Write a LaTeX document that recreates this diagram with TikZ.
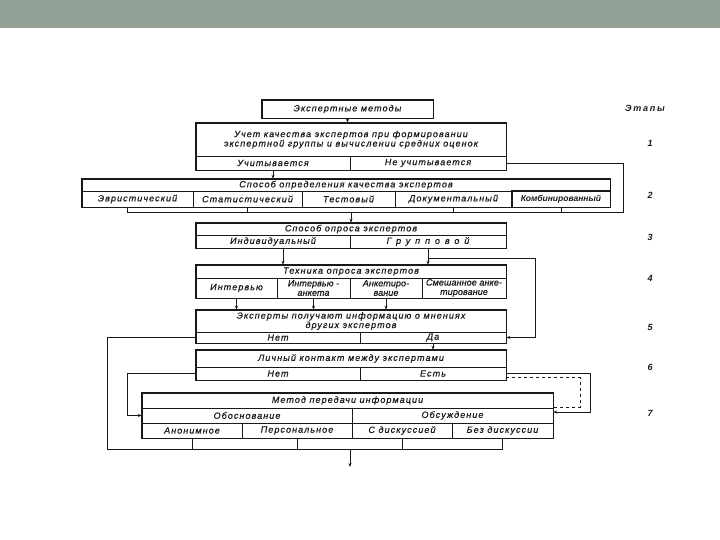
\documentclass[tikz,border=0pt]{standalone}
\usepackage{fontspec}
\setmainfont{Liberation Sans}
\usetikzlibrary{arrows.meta}
\definecolor{bandgrey}{RGB}{147,161,150}
\definecolor{ink}{RGB}{25,25,25}
\tikzset{
  cell/.style={draw=ink, line width=0.5pt, inner sep=0pt, align=center, text=ink,
    font=\itshape\fontsize{9}{9.4}\selectfont\addfontfeature{LetterSpace=12,FakeBold=0.6}},
  tightcell/.style={cell, font=\itshape\fontsize{9}{9.4}\selectfont\addfontfeature{LetterSpace=1,FakeBold=0.6}},
  frame/.style={draw=ink, line width=1.3pt},
  link/.style={draw=ink, line width=0.8pt},
  arr/.style={link, -{Stealth[length=4pt,width=3pt]}},
  stage/.style={font=\bfseries\itshape\fontsize{9}{9}\selectfont\addfontfeature{LetterSpace=20}, text=ink}
}
\begin{document}
\begin{tikzpicture}[x=1pt,y=-1pt]
			%%%%% START %%%%%
			\useasboundingbox (0,0) rectangle (720,540);
			\fill[bandgrey] (0,0) rectangle (720,28);
			
			% stage 0
			\node[cell, minimum width=171, minimum height=18] (methods) at (347.5,109) {Экспертные методы};
			\draw[frame] (methods.north west) rectangle (methods.south east);
			
			% stage 1
			\node[cell, minimum width=310, minimum height=33] (b1t) at (351,139.5) {Учет качества экспертов при формировании\\экспертной группы и вычислении средних оценок};
			\node[cell, minimum width=154, minimum height=14] (b1a) at (273,163) {Учитывается};
			\node[cell, minimum width=156, minimum height=14] (b1b) at (428,163) {Не учитывается};
			\draw[frame] (b1t.north west) rectangle (b1b.south east);
			
			% stage 2
			\node[cell, minimum width=528, minimum height=12] (b2t) at (346,185) {Способ определения качества экспертов};
			\node[cell, minimum width=111, minimum height=16] (b2a) at (137.5,199) {Эвристический};
			\node[cell, minimum width=109, minimum height=16] (b2b) at (247.5,199) {Статистический};
			\node[cell, minimum width=93, minimum height=16] (b2c) at (348.5,199) {Тестовый};
			\node[cell, minimum width=117, minimum height=16] (b2d) at (453.5,199) {Документальный};
			\node[tightcell, minimum width=98, minimum height=16, font=\bfseries\itshape\fontsize{8.5}{9}\selectfont] (b2e) at (561,199) {Комбинированный};
			\draw[frame] (b2t.north west) rectangle (b2e.south east);
			\draw[frame] (b2e.north west) rectangle (b2e.south east);
			
			% stage 3
			\node[cell, minimum width=310, minimum height=12] (b3t) at (351,229) {Способ опроса экспертов};
			\node[cell, minimum width=154, minimum height=13] (b3a) at (273,241.5) {Индивидуальный};
			\node[cell, minimum width=156, minimum height=13, font=\itshape\fontsize{9}{9.4}\selectfont\addfontfeature{LetterSpace=55,FakeBold=0.6}] (b3b) at (428,241.5) {Групповой};
			\draw[frame] (b3t.north west) rectangle (b3b.south east);
			
			% stage 4
			\node[cell, minimum width=310, minimum height=13] (b4t) at (351,271.5) {Техника опроса экспертов};
			\node[cell, minimum width=81, minimum height=20] (b4a) at (236.5,288) {Интервью};
			\node[tightcell, minimum width=73, minimum height=20] (b4b) at (313.5,288) {Интервью -\\анкета};
			\node[tightcell, minimum width=72, minimum height=20] (b4c) at (386,288) {Анкетиро-\\вание};
			\node[tightcell, minimum width=84, minimum height=20] (b4d) at (464,288) {Смешанное анке-\\тирование};
			\draw[frame] (b4t.north west) rectangle (b4d.south east);
			
			% stage 5
			\node[cell, minimum width=310, minimum height=22] (b5t) at (351,321) {Эксперты получают информацию о мнениях\\других экспертов};
			\node[cell, minimum width=164, minimum height=11] (b5a) at (278,337.5) {Нет};
			\node[cell, minimum width=146, minimum height=11] (b5b) at (433,337.5) {Да};
			\draw[frame] (b5t.north west) rectangle (b5b.south east);
			
			% stage 6
			\node[cell, minimum width=310, minimum height=17] (b6t) at (351,358.5) {Личный контакт между экспертами};
			\node[cell, minimum width=164, minimum height=13] (b6a) at (278,373.5) {Нет};
			\node[cell, minimum width=146, minimum height=13] (b6b) at (433,373.5) {Есть};
			\draw[frame] (b6t.north west) rectangle (b6b.south east);
			
			% stage 7
			\node[cell, minimum width=411, minimum height=15] (b7t) at (347.5,400.5) {Метод передачи информации};
			\node[cell, minimum width=210, minimum height=15] (b7l) at (247,415.5) {Обоснование};
			\node[cell, minimum width=201, minimum height=15] (b7r) at (452.5,415.5) {Обсуждение};
			\node[cell, minimum width=100, minimum height=15] (b7a) at (192,430.5) {Анонимное};
			\node[cell, minimum width=110, minimum height=15] (b7b) at (297,430.5) {Персональное};
			\node[cell, minimum width=100, minimum height=15] (b7c) at (402,430.5) {С дискуссией};
			\node[cell, minimum width=101, minimum height=15] (b7d) at (502.5,430.5) {Без дискуссии};
			\draw[frame] (b7t.north west) rectangle (b7d.south east);
			
			% stage numbers
			\node[stage] (stages) at (645,108) {Этапы};
			\foreach \n/\y in {1/143,2/195,3/237,4/278,5/327,6/367,7/413}
				\node[stage] (s\n) at (650,\y) {\n};
			
			% bends and buses
			\coordinate (bus2w) at (127,212);
			\coordinate (bus2e) at (623,212);
			\coordinate (grp) at (535,258);
			\coordinate (bus7w) at (107,449);
			\coordinate (bus7e) at (502.5,449);
			\coordinate (lp6) at (127,415.5);
			\coordinate (rp6) at (590,412);
			\coordinate (dp6) at (580,407);
			\coordinate (out) at (350,467);
			
			% connectors 0 -> 1 -> 2
			\draw[arr] (methods.south) -- (methods.south |- b1t.north);
			\draw[arr] (b1a.south) -- (b1a.south |- b2t.north);
			\draw[link] (b1b.east) -| (bus2e) -- (bus2w);
			\draw[link] (b2a.south -| bus2w) -- (bus2w);
			\draw[link] (b2b.south) -- (b2b.south |- bus2w);
			\draw[link] (b2d.south) -- (b2d.south |- bus2w);
			\draw[link] (b2e.south) -- (b2e.south |- bus2w);
			\draw[arr] (b3t.north |- bus2w) -- (b3t.north);
			
			% connectors 3 -> 4 -> 5
			\draw[arr] ([xshift=10pt]b3a.south) -- ([xshift=10pt]b3a.south |- b4t.north);
			\draw[arr] (b3b.south) -- (b3b.south |- b4t.north);
			\draw[arr] (b3b.south |- grp) -- (grp) |- (b5b.east);
			\draw[arr] (b4a.south) -- (b4a.south |- b5t.north);
			\draw[arr] (b4b.south) -- (b4b.south |- b5t.north);
			\draw[arr] (b4c.south) -- (b4c.south |- b5t.north);
			
			% connectors 5 -> 6 -> 7
			\draw[link] (b5a.west) -| (bus7w) -- (bus7e);
			\draw[arr] (b5b.south) -- (b5b.south |- b6t.north);
			\draw[arr] (b6a.west) -| (lp6) -- (b7l.west |- lp6);
			\draw[arr] (b6b.east) -| (rp6) -- (b7r.east |- rp6);
			\draw[link, dashed] ([yshift=-4pt]b6b.east) -| (dp6) -- (b7r.east |- dp6);
			
			% stage 7 -> out
			\draw[link] (b7a.south) -- (b7a.south |- bus7w);
			\draw[link] (b7b.south) -- (b7b.south |- bus7w);
			\draw[link] (b7c.south) -- (b7c.south |- bus7w);
			\draw[link] (b7d.south) -- (b7d.south |- bus7w);
			\draw[arr] (out |- bus7w) -- (out);
			
			%%%%% END %%%%%
\end{tikzpicture}
\end{document}
